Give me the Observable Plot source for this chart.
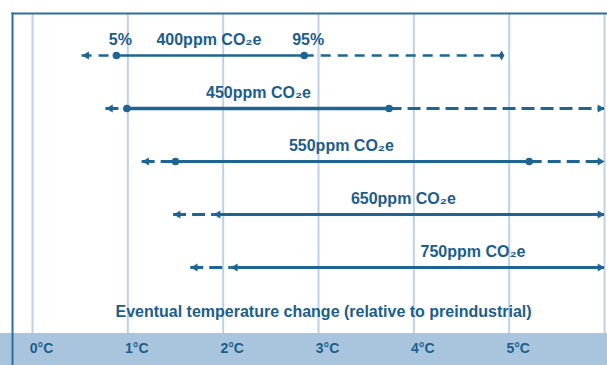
<!DOCTYPE html>
<html>
<head>
<meta charset="utf-8">
<script src="https://cdn.jsdelivr.net/npm/d3@7"></script>
<script src="https://cdn.jsdelivr.net/npm/@observablehq/plot@0.6"></script>
<style>
html, body { margin: 0; padding: 0; background: #fff; }
#chart svg { display: block; }
</style>
</head>
<body>
<div id="chart"></div>
<script>
// ---- data (°C) ----
const scenarios = ["400ppm", "450ppm", "550ppm", "650ppm", "750ppm"];
const scenarioLabels = ["400ppm CO₂e", "450ppm CO₂e", "550ppm CO₂e", "650ppm CO₂e", "750ppm CO₂e"];
const lowEnd = [0.52, 0.77, 1.15, 1.48, 1.66];
const p5 = [0.88, 0.99, 1.50, 1.90, 2.08];
const p95 = [2.85, 3.74, 5.21, null, null];
const highEnd = [4.92, 6, 6, 6, 6];
const labelAt = [1.85, 2.37, 3.24, 3.89, 4.62];
const gridValues = [0, 1, 2, 3, 4, 5, 6];
const tickValues = [0, 1, 2, 3, 4, 5];
const percentLabels = ["5%", "95%"];
const axisTitle = "Eventual temperature change (relative to preindustrial)";

const LINE = "#1e6593";
const TEXT = "#1c5d8b";
const GRID = "#bdd2e7";
const FRAME = "#2f6e9b";
const BAND = "#a9c5de";

const rows = scenarios.map((name, i) => ({
  name, label: scenarioLabels[i], low: lowEnd[i], p5: p5[i], p95: p95[i], high: highEnd[i], labelAt: labelAt[i]
}));
const xMax = gridValues[gridValues.length - 1];
const sw = d => d.name === scenarios[0] ? 2.5 : d.name === scenarios[1] ? 3.5 : 3;

const solid = rows.map(r => ({name: r.name, a: r.p5, b: r.p95 ?? r.high}));
const dashed = rows.flatMap(r => [
  {name: r.name, a: r.low, b: r.p5},
  ...(r.p95 != null ? [{name: r.name, a: r.p95, b: r.high}] : [])
]);
const pctRow = [
  {name: rows[0].name, x: rows[0].p5, t: percentLabels[0]},
  {name: rows[0].name, x: rows[0].p95, t: percentLabels[1]}
];

const chart = Plot.plot({
  width: 607,
  height: 365,
  marginTop: 13,
  marginLeft: 12,
  marginRight: -3,
  marginBottom: 0,
  style: {
    fontFamily: "'Liberation Sans', Arial, Helvetica, sans-serif",
    fontWeight: "bold",
    background: `linear-gradient(to bottom, #fff 0px, #fff 333px, ${BAND} 333px, ${BAND} 100%)`
  },
  x: {domain: [0, xMax], range: [32, 604], axis: null},
  y: {type: "point", domain: scenarios, range: [55, 267], padding: 0, axis: null},
  marks: [
    Plot.ruleX(gridValues, {x: d => d, stroke: GRID, strokeWidth: 2, insetBottom: 32}),
    Plot.frame({anchor: "top", stroke: FRAME, strokeWidth: 2}),
    Plot.frame({anchor: "left", stroke: FRAME, strokeWidth: 2}),
    // dashed parts
    Plot.ruleY(dashed.filter(d => d.name === scenarios[0]), {y: "name", x1: "a", x2: "b", stroke: LINE, strokeWidth: 2.5, strokeDasharray: "10,7"}),
    Plot.ruleY(dashed.filter(d => d.name !== scenarios[0]), {y: "name", x1: "a", x2: "b", stroke: LINE, strokeWidth: 3, strokeDasharray: "13,6"}),
    // solid 5%-95% parts
    Plot.ruleY(solid, {y: "name", x1: "a", x2: "b", stroke: LINE, strokeWidth: sw}),
    // left arrows at low end
    Plot.dot(rows, {x: "low", y: "name", symbol: "triangle", rotate: -90, r: 3, fill: LINE, dx: 4.5}),
    // 5% markers: arrow where no 95% bound, else dot
    Plot.dot(rows.filter(r => r.p95 == null), {x: "p5", y: "name", symbol: "triangle", rotate: -90, r: 3, fill: LINE, dx: 4.5}),
    Plot.dot(rows.filter(r => r.p95 != null), {x: "p5", y: "name", r: 3.8, fill: LINE}),
    Plot.dot(rows.filter(r => r.p95 != null), {x: "p95", y: "name", r: 3.8, fill: LINE}),
    // high end: arrow if open-ended, diamond otherwise
    Plot.dot(rows.filter(r => r.high >= xMax), {x: "high", y: "name", symbol: "triangle", rotate: 90, r: 3, fill: LINE, dx: -4.5}),
    Plot.dot(rows.filter(r => r.high < xMax), {x: "high", y: "name", symbol: "diamond", r: 3, fill: LINE}),
    // labels
    Plot.text(rows, {x: "labelAt", y: "name", text: "label", dy: -16, fontSize: 16, fill: TEXT}),
    Plot.text(pctRow, {x: "x", y: "name", text: "t", dy: -16, dx: 4, fontSize: 16, fill: TEXT}),
    // axis title and tick labels
    Plot.text([axisTitle], {text: d => d, frameAnchor: "bottom", dy: -49, dx: 12, fontSize: 16, fill: TEXT}),
    Plot.text(tickValues, {x: d => d, text: d => `${d}°C`, frameAnchor: "bottom", dy: -13, dx: 9, fontSize: 14, fill: TEXT})
  ]
});
document.getElementById("chart").appendChild(chart);
</script>
</body>
</html>
